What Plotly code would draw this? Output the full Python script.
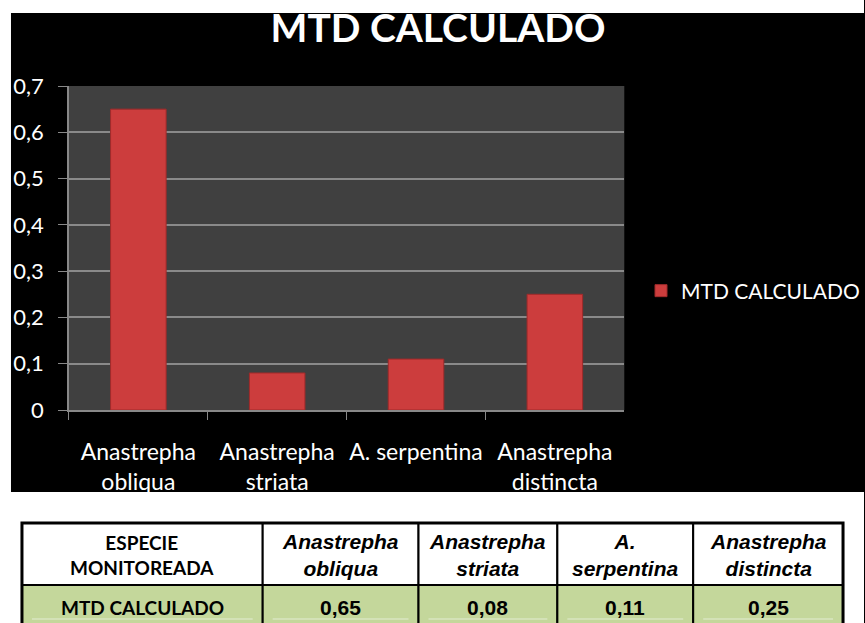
import plotly.graph_objects as go

# data
especies = ["Anastrepha<br>obliqua", "Anastrepha<br>striata", "A. serpentina", "Anastrepha<br>distincta"]
especies_tabla = ["Anastrepha<br>obliqua", "Anastrepha<br>striata", "A.<br>serpentina", "Anastrepha<br>distincta"]
mtd = [0.65, 0.08, 0.11, 0.25]
serie = "MTD CALCULADO"
cabecera = "ESPECIE<br>MONITOREADA"

W, H = 865, 623


def fx(x):
    return x / W


def fy(y):
    return 1 - y / H


fig = go.Figure()
fig.add_trace(go.Bar(
    x=especies, y=mtd, name=serie,
    width=0.4,
    marker=dict(color="#cc3d3d", line=dict(color="#a02a2a", width=1)),
    showlegend=True,
))

# white areas around the black chart block
white = dict(type="rect", xref="paper", yref="paper", fillcolor="white",
             line=dict(width=0), layer="below")
fig.add_shape(**white, x0=0, x1=1, y0=fy(13), y1=1)
fig.add_shape(**white, x0=0, x1=fx(11), y0=0, y1=1)
fig.add_shape(**white, x0=0, x1=1, y0=0, y1=fy(492))

# table below the chart, drawn with shapes and annotations
col_w = [241, 156, 139, 136, 150]
bounds = [22]
for w in col_w:
    bounds.append(bounds[-1] + w)
top, mid, bot = 523, 585, 640

valores = [f"{v:.2f}".replace(".", ",") for v in mtd]
fila1 = [cabecera] + especies_tabla
fila2 = [serie] + valores

for i in range(len(col_w)):
    x0, x1 = bounds[i], bounds[i + 1]
    cx = fx((x0 + x1) / 2)
    fig.add_shape(type="rect", xref="paper", yref="paper",
                  x0=fx(x0), x1=fx(x1), y0=fy(mid), y1=fy(top),
                  fillcolor="white", line=dict(color="black", width=2))
    fig.add_shape(type="rect", xref="paper", yref="paper",
                  x0=fx(x0), x1=fx(x1), y0=fy(bot), y1=fy(mid),
                  fillcolor="#c4d79b", line=dict(color="black", width=2))
    fig.add_shape(type="line", xref="paper", yref="paper",
                  x0=fx(x0 + 10), x1=fx(x1 - 10), y0=fy(619), y1=fy(619),
                  line=dict(color="#e3ecd2", width=1))
    if i == 0:
        f1 = dict(family="Lato", size=19, color="black")
        f2 = dict(family="Lato", size=19, color="black")
        t1 = f"<b>{fila1[i]}</b>"
    else:
        f1 = dict(family="Liberation Sans", size=21, color="black")
        f2 = dict(family="Liberation Sans", size=21, color="black")
        t1 = f"<b><i>{fila1[i]}</i></b>"
    fig.add_annotation(xref="paper", yref="paper", x=cx, y=fy((top + mid) / 2 + 1),
                       text=t1, showarrow=False, align="center",
                       xanchor="center", yanchor="middle", font=f1)
    fig.add_annotation(xref="paper", yref="paper", x=cx, y=fy(607),
                       text=f"<b>{fila2[i]}</b>", showarrow=False, align="center",
                       xanchor="center", yanchor="middle", font=f2)

# thicker outer border
fig.add_shape(type="rect", xref="paper", yref="paper",
              x0=fx(bounds[0]), x1=fx(bounds[-1]), y0=fy(bot), y1=fy(top),
              line=dict(color="black", width=3))

fig.update_layout(
    width=W, height=H,
    margin=dict(l=0, r=0, t=0, b=0),
    paper_bgcolor="black",
    plot_bgcolor="#404040",
    separators=", ",
    font=dict(family="Lato", color="white", size=22),
    title=dict(text="<b>MTD CALCULADO</b>", x=fx(438), xanchor="center",
               y=fy(28), yanchor="middle",
               font=dict(family="Lato", size=39, color="white")),
    legend=dict(x=fx(642), y=fy(291), xanchor="left", yanchor="middle",
                font=dict(size=21, color="white"), bgcolor="rgba(0,0,0,0)",
                borderwidth=0, itemwidth=30),
    xaxis=dict(
        domain=[fx(69), fx(625)], automargin=False,
        showgrid=False, showline=True, linecolor="#888888", linewidth=1.5,
        ticks="outside", tickson="boundaries", ticklen=8, tickcolor="#888888",
        tickfont=dict(size=23, color="white"), ticklabelstandoff=21,
        tickangle=0,
    ),
    yaxis=dict(
        domain=[fy(410), fy(86)], automargin=False,
        range=[0, 0.7], dtick=0.1,
        showgrid=True, gridcolor="#8a8a8a", gridwidth=1.5,
        showline=True, linecolor="#888888", linewidth=1.5,
        ticks="outside", ticklen=9, tickcolor="#888888",
        tickfont=dict(size=22, color="white"), zeroline=False,
        ticklabelstandoff=10,
    ),
)

fig.write_html(
    "out.html", config={"displayModeBar": False},
    post_script="document.body.style.margin='0';document.body.style.overflow='hidden';",
)
